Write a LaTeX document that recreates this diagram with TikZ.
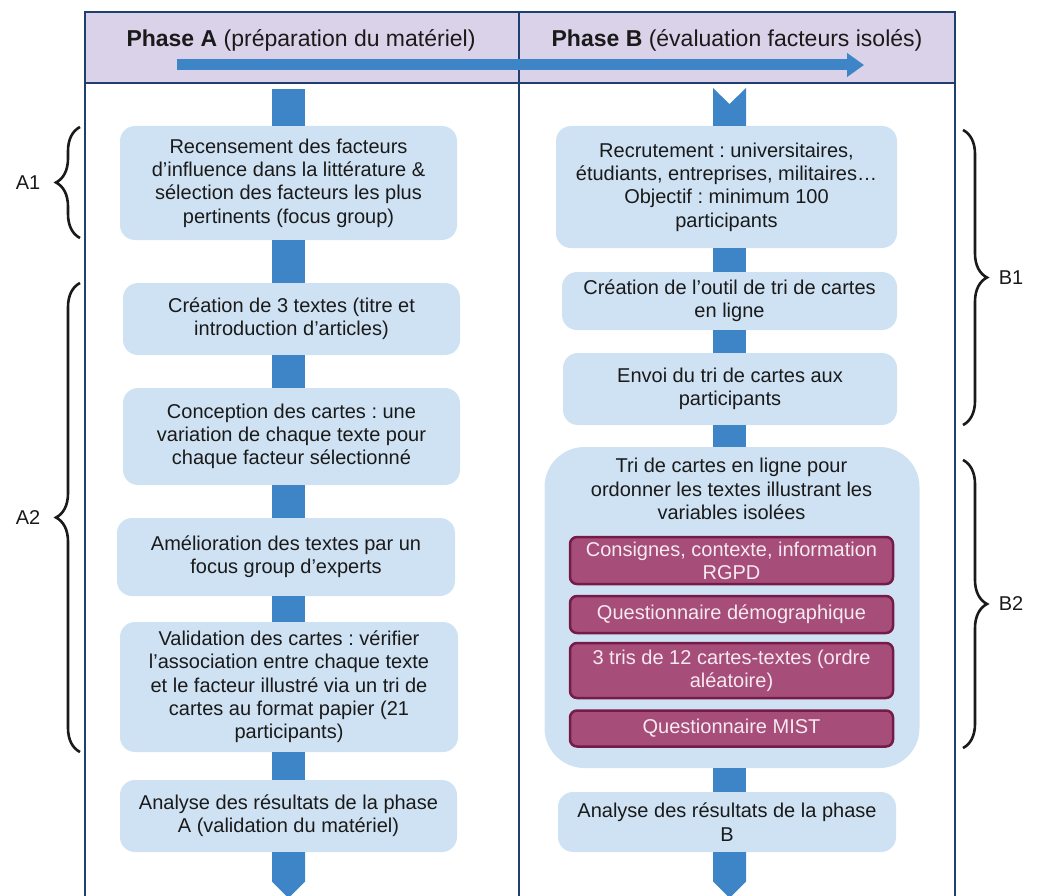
\documentclass[tikz,border=0pt]{standalone}
\usepackage{fontspec}
\setmainfont{Liberation Sans}
\usetikzlibrary{decorations.pathreplacing,arrows.meta,calc}
\frenchspacing

\definecolor{boxblue}{HTML}{CFE2F3}
\definecolor{barblue}{HTML}{3D85C6}
\definecolor{headlav}{HTML}{D9D2E9}
\definecolor{framenavy}{HTML}{1F3F6E}
\definecolor{plum}{HTML}{A64D79}
\definecolor{plumdark}{HTML}{741B47}
\definecolor{ink}{HTML}{1A1A1A}
\definecolor{plumtext}{HTML}{F6EAF0}

\tikzset{
  txt/.style={font=\fontsize{20}{23.3}\selectfont, text=ink, align=center, inner sep=0pt},
  stepbox/.style={txt, fill=boxblue, rounded corners=15pt},
  subbox/.style={font=\fontsize{20}{23}\selectfont, text=plumtext, align=center, inner sep=0pt,
    fill=plum, draw=plumdark, line width=2.5pt, rounded corners=7pt,
    minimum width=323pt},
  bar/.style={draw=barblue, line width=33pt},
  framel/.style={draw=framenavy, line width=1.4pt},
  bracket/.style={draw=ink, line width=2.6pt, decorate,
    decoration={brace, amplitude=24pt}},
  lbl/.style={font=\fontsize{20}{23}\selectfont, text=ink, inner sep=0pt},
}

\begin{document}
\begin{tikzpicture}[x=1pt,y=-1pt]
\useasboundingbox (0,0) rectangle (1041,896);

% header band and table frame
\fill[headlav] (85,12) rectangle (955,83);
\draw[framel] (85,897) -- (85,12) -- (955,12) -- (955,897);
\draw[framel] (85,83) -- (955,83);
\draw[framel] (519,12) -- (519,897);

\node[txt, font=\fontsize{23}{26}\selectfont] (hA) at (301,40) {\textbf{Phase A} (préparation du matériel)};
\node[txt, font=\fontsize{23}{26}\selectfont] (hB) at (737,40) {\textbf{Phase B} (évaluation facteurs isolés)};

% timeline arrow
\coordinate (tS) at (177,65);
\coordinate (tE) at (864,65);
\draw[barblue, line width=11pt, -{Triangle[length=17pt,width=23pt]}] (tS) -- (tE);

% column axes
\coordinate (colA) at (288.5,0);
\coordinate (colB) at (729.5,0);

% phase A steps
\node[stepbox, minimum width=337pt, minimum height=114pt] (L1) at (288.5,183)
  {Recensement des facteurs\\d’influence dans la littérature \&\\sélection des facteurs les plus\\pertinents (focus group)};
\node[stepbox, minimum width=337pt, minimum height=72pt] (L2) at (291.5,319)
  {Création de 3 textes (titre et\\introduction d’articles)};
\node[stepbox, minimum width=337pt, minimum height=97pt] (L3) at (291.5,436.5)
  {Conception des cartes : une\\variation de chaque texte pour\\chaque facteur sélectionné};
\node[stepbox, minimum width=338pt, minimum height=78pt] (L4) at (286,557)
  {Amélioration des textes par un\\focus group d’experts};
\node[stepbox, minimum width=338pt, minimum height=130pt] (L5) at (289,687)
  {Validation des cartes : vérifier\\l’association entre chaque texte\\et le facteur illustré via un tri de\\cartes au format papier (21\\participants)};
\node[stepbox, minimum width=337pt, minimum height=72pt] (L6) at (288.5,816)
  {Analyse des résultats de la phase\\A (validation du matériel)};

% phase B steps
\node[stepbox, minimum width=341pt, minimum height=122pt] (R1) at (726.5,187)
  {Recrutement : universitaires,\\étudiants, entreprises, militaires…\\Objectif : minimum 100\\participants};
\node[stepbox, minimum width=335pt, minimum height=58pt] (R2) at (729.5,301)
  {Création de l’outil de tri de cartes\\en ligne};
\node[stepbox, minimum width=334pt, minimum height=72pt] (R3) at (730,389)
  {Envoi du tri de cartes aux\\participants};
\node[stepbox, rounded corners=40pt, minimum width=375pt, minimum height=321pt] (R4) at (732,607.5) {};
\node[txt] (R4t) at (731.5,489)
  {Tri de cartes en ligne pour\\ordonner les textes illustrant les\\variables isolées};
\node[subbox, minimum height=47pt] (Pa) at (731.5,560.5) {Consignes, contexte, information\\RGPD};
\node[subbox, minimum height=37pt] (Pb) at (731.5,614.5) {Questionnaire démographique};
\node[subbox, minimum height=55pt] (Pc) at (731.5,670.5) {3 tris de 12 cartes-textes (ordre\\aléatoire)};
\node[subbox, minimum height=36pt] (Pd) at (731.5,728.5) {Questionnaire MIST};
\node[stepbox, minimum width=338pt, minimum height=60pt] (R5) at (727,822)
  {Analyse des résultats de la phase\\B};

% phase A flow bars
\coordinate (topA) at (288.5,89);
\draw[bar] (topA) -- (L1.north -| colA);
\draw[bar] (L1.south -| colA) -- (L2.north -| colA);
\draw[bar] (L2.south -| colA) -- (L3.north -| colA);
\draw[bar] (L3.south -| colA) -- (L4.north -| colA);
\draw[bar] (L4.south -| colA) -- (L5.north -| colA);
\draw[bar] (L5.south -| colA) -- (L6.north -| colA);
\coordinate (tipA) at (288.5,898);
\fill[barblue] ($(L6.south -| colA)+(-16.5,0)$) -- ($(L6.south -| colA)+(16.5,0)$)
  -- ($(tipA)+(16.5,-16.5)$) -- (tipA) -- ($(tipA)+(-16.5,-16.5)$) -- cycle;

% phase B flow bars
\coordinate (topB) at (729.5,88);
\fill[barblue] ($(topB)+(-16.5,0)$) -- ($(topB)+(0,16)$) -- ($(topB)+(16.5,0)$)
  -- ($(R1.north -| colB)+(16.5,0)$) -- ($(R1.north -| colB)+(-16.5,0)$) -- cycle;
\draw[bar] (R1.south -| colB) -- (R2.north -| colB);
\draw[bar] (R2.south -| colB) -- (R3.north -| colB);
\draw[bar] (R3.south -| colB) -- (R4.north -| colB);
\draw[bar] (R4.south -| colB) -- (R5.north -| colB);
\coordinate (tipB) at (729.5,898);
\fill[barblue] ($(R5.south -| colB)+(-16.5,0)$) -- ($(R5.south -| colB)+(16.5,0)$)
  -- ($(tipB)+(16.5,-16.5)$) -- (tipB) -- ($(tipB)+(-16.5,-16.5)$) -- cycle;

% grouping braces
\coordinate (a1b) at (80,238); \coordinate (a1t) at (80,127);
\coordinate (a2b) at (80,752); \coordinate (a2t) at (80,283);
\coordinate (b1t) at (963,130); \coordinate (b1b) at (963,425);
\coordinate (b2t) at (963,460); \coordinate (b2b) at (963,748);
\draw[bracket] (a1b) -- (a1t);
\draw[bracket] (a2b) -- (a2t);
\draw[bracket] (b1t) -- (b1b);
\draw[bracket] (b2t) -- (b2b);
\node[lbl] (A1) at (28,183) {A1};
\node[lbl] (A2) at (28,518) {A2};
\node[lbl] (B1) at (1011,278) {B1};
\node[lbl] (B2) at (1011,604) {B2};
\end{tikzpicture}
\end{document}
